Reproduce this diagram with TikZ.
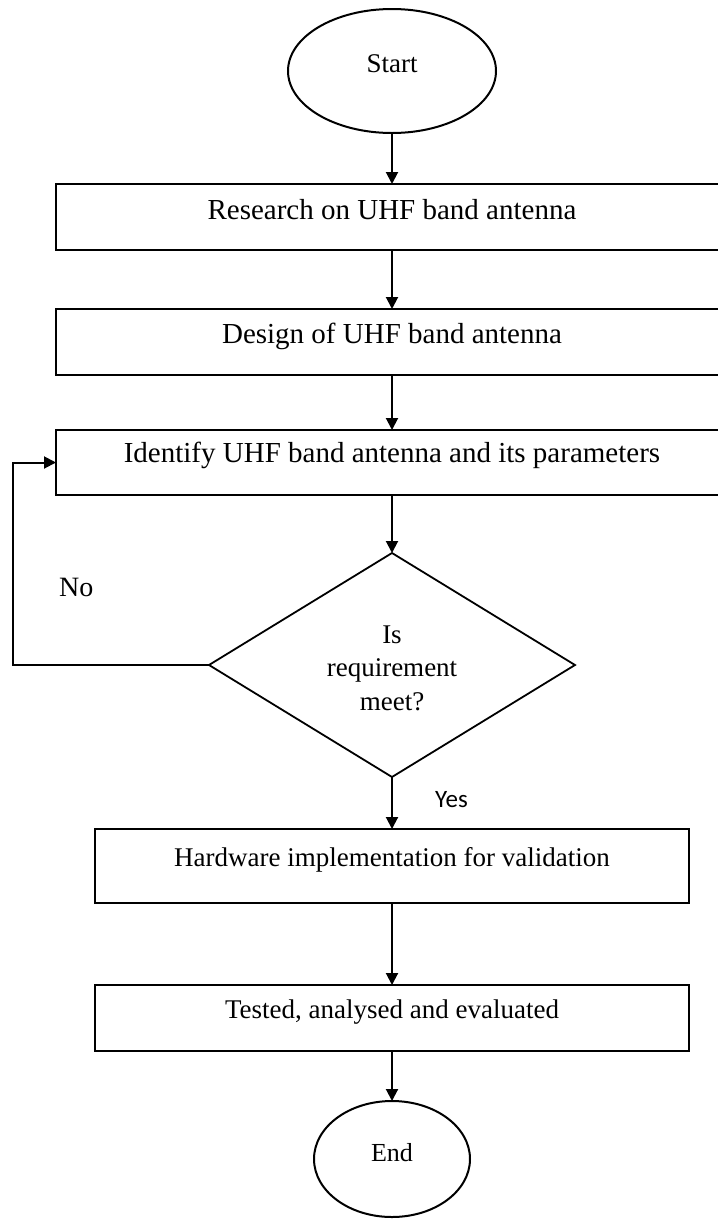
\documentclass[tikz,border=0pt]{standalone}
\usepackage{fontspec}
\setmainfont{Liberation Serif}
\newfontfamily\yesfont{Carlito}
\usetikzlibrary{shapes.geometric,arrows.meta}
\tikzset{
  box/.style={draw, rectangle, line width=2pt, inner sep=0pt, outer sep=0pt,
    text height=0pt, text depth=0pt, font=\fontsize{29}{34}\selectfont},
  lowbox/.style={box, minimum width=594pt, font=\fontsize{27}{32}\selectfont},
  oval/.style={draw, ellipse, line width=2pt, inner sep=0pt, outer sep=0pt,
    text height=0pt, text depth=0pt, font=\fontsize{27}{32}\selectfont},
  decision/.style={draw, diamond, line width=1.8pt, inner sep=0pt, outer sep=0pt,
    minimum width=366pt, minimum height=224pt},
  arr/.style={line width=2pt, -{Triangle[length=12pt,width=12pt]}},
  lbl/.style={anchor=base west, inner sep=0pt},
}
\begin{document}
\begin{tikzpicture}[x=1pt,y=-1pt]
\clip (0,0) rectangle (718,1219);
\fill[white] (0,0) rectangle (718,1219);

\node[oval, minimum width=208pt, minimum height=124pt] (start) at (392,71) {\raisebox{-1pt}{Start}};
\node[box, minimum width=672pt, minimum height=66pt] (b1) at (392,217) {\raisebox{-2pt}{Research on UHF band antenna}};
\node[box, minimum width=672pt, minimum height=66pt] (b2) at (392,342) {\raisebox{-1pt}{Design of UHF band antenna}};
\node[box, minimum width=672pt, minimum height=65pt] (b3) at (392,462.5) {Identify UHF band antenna and its parameters};
\node[decision] (dia) at (392,665) {};
\node[align=center, inner sep=0pt, font=\fontsize{27}{33.5}\selectfont] (dtext) at (392,668) {Is\\requirement\\meet?};
\node[lowbox, minimum height=74pt] (b4) at (392,866) {Hardware implementation for validation};
\node[lowbox, minimum height=66pt] (b5) at (392,1018) {Tested, analysed and evaluated};
\node[oval, minimum width=156pt, minimum height=116pt, font=\fontsize{26}{31}\selectfont] (end) at (392,1159) {\raisebox{-2pt}{End}};

\node[lbl, font=\fontsize{28}{33}\selectfont] (no) at (59,596) {No};
\node[lbl, font=\yesfont\fontsize{25}{30}\selectfont] (yes) at (435,807) {Yes};

\draw[arr] (start) -- (b1);
\draw[arr] (b1) -- (b2);
\draw[arr] (b2) -- (b3);
\draw[arr] (b3) -- (dia.north);
\draw[arr] (dia.south) -- (b4);
\draw[arr] (b4) -- (b5);
\draw[arr] (b5) -- (end);
\draw[arr] (dia.west) -- ++(-196,0) |- (b3.west);
\end{tikzpicture}
\end{document}
